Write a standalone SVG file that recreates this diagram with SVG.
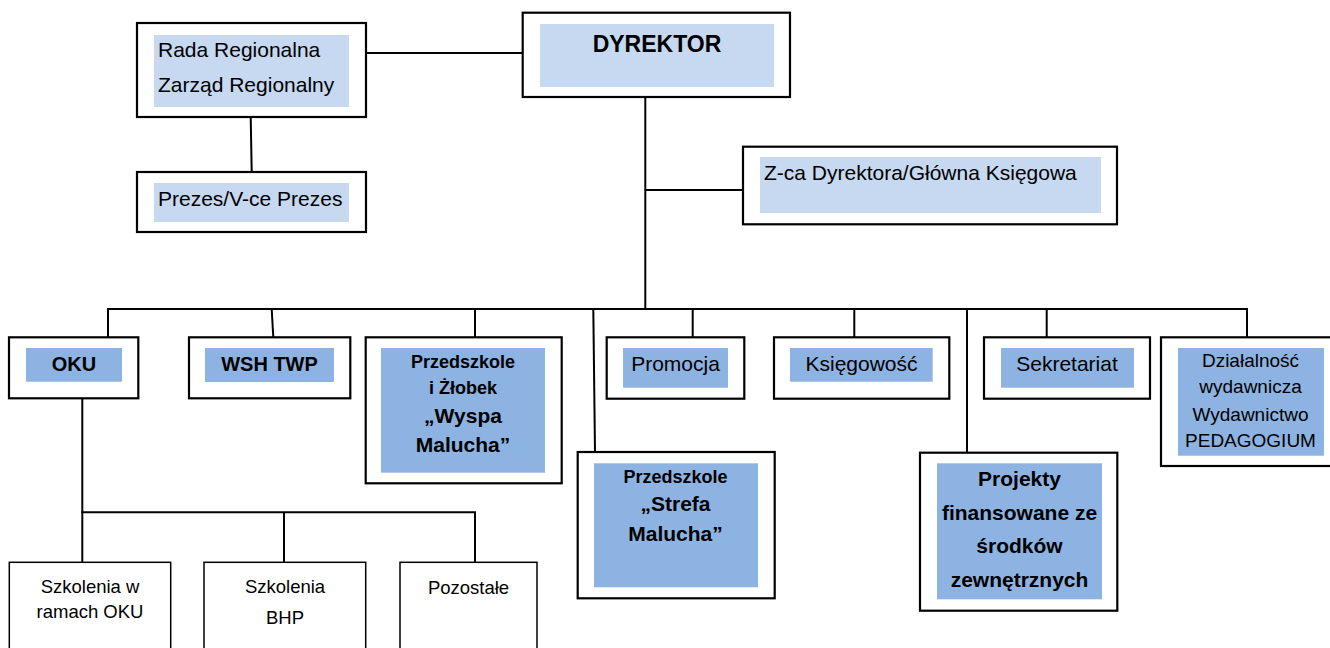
<svg xmlns="http://www.w3.org/2000/svg" width="1330" height="648" viewBox="0 0 1330 648">
<style>
.box{fill:#fff;stroke:#000;stroke-width:2.2}
.sub{fill:#fff;stroke:#000;stroke-width:1.5}
.lt{fill:#C6D9F1}
.md{fill:#8DB3E2}
.con{fill:none;stroke:#000;stroke-width:2}
text{font-family:"Liberation Sans",Arial,sans-serif;fill:#000}
.r{font-size:21px}
.b{font-size:21px;font-weight:bold}
.bs{font-size:18px;font-weight:bold}
.c{text-anchor:middle}
.s{font-size:18.5px}
.d{font-size:19px}
</style>
<rect width="1330" height="648" fill="#fff"/>
<g id="connectors">
<path class="con" d="M366 53H522.7"/>
<path class="con" d="M250.7 117L251.7 172"/>
<path class="con" d="M645.3 97V309"/>
<path class="con" d="M645.3 190H743"/>
<path class="con" d="M107 309H1248"/>
<path class="con" d="M108 309V337.3"/>
<path class="con" d="M271.7 309L273.3 337.3"/>
<path class="con" d="M475 309V337.3"/>
<path class="con" d="M593.3 309L595 452"/>
<path class="con" d="M692.7 309V337.3"/>
<path class="con" d="M854.3 309V337.3"/>
<path class="con" d="M967 309V452.7"/>
<path class="con" d="M1046.7 309V337.3"/>
<path class="con" d="M1247 309V337.3"/>
<path class="con" d="M82.3 398.3V512.3"/>
<path class="con" d="M81.3 512.3H476"/>
<path class="con" d="M82.3 512.3V562.3"/>
<path class="con" d="M284 512.3V562.3"/>
<path class="con" d="M475 512.3V562.3"/>
</g>
<g id="rada">
<rect class="box" x="137" y="23" width="229" height="94"/>
<rect class="lt" x="154" y="35" width="195" height="72"/>
<text class="r" x="158" y="57">Rada Regionalna</text>
<text class="r" x="158" y="92">Zarząd Regionalny</text>
</g>
<g id="prezes">
<rect class="box" x="137" y="172" width="229" height="60"/>
<rect class="lt" x="154" y="183" width="195" height="39"/>
<text class="r" x="158" y="206">Prezes/V-ce Prezes</text>
</g>
<g id="dyrektor">
<rect class="box" x="522.7" y="12.7" width="267.3" height="84.3"/>
<rect class="lt" x="540" y="24" width="234" height="63"/>
<text class="c" x="657" y="52" style="font-size:23px;font-weight:bold">DYREKTOR</text>
</g>
<g id="zca">
<rect class="box" x="743" y="146.7" width="374" height="77.6"/>
<rect class="lt" x="760" y="157" width="341" height="56"/>
<text class="r" x="764" y="180">Z-ca Dyrektora/Główna Księgowa</text>
</g>
<g id="oku">
<rect class="box" x="9" y="337.3" width="129.3" height="61"/>
<rect class="md" x="26" y="348" width="96" height="33.7"/>
<text class="c" x="74" y="371" style="font-size:20px;font-weight:bold">OKU</text>
</g>
<g id="wsh">
<rect class="box" x="189" y="337.3" width="161.3" height="61"/>
<rect class="md" x="205" y="348" width="129" height="34"/>
<text class="c" x="269.5" y="371" style="font-size:20px;font-weight:bold">WSH TWP</text>
</g>
<g id="wyspa">
<rect class="box" x="365.7" y="337.3" width="196" height="146"/>
<rect class="md" x="381" y="348" width="164" height="124.7"/>
<text class="c bs" x="463" y="368">Przedszkole</text>
<text class="c bs" x="463" y="394">i Żłobek</text>
<text class="c b" x="463" y="423">„Wyspa</text>
<text class="c b" x="463" y="452">Malucha”</text>
</g>
<g id="promocja">
<rect class="box" x="606.7" y="337.3" width="137.6" height="61.4"/>
<rect class="md" x="623" y="348" width="105" height="39.7"/>
<text class="c r" x="675.5" y="371">Promocja</text>
</g>
<g id="ksiegowosc">
<rect class="box" x="774" y="337.3" width="175.3" height="61.4"/>
<rect class="md" x="790" y="348" width="142.7" height="33.7"/>
<text class="c r" x="861.5" y="371">Księgowość</text>
</g>
<g id="sekretariat">
<rect class="box" x="984" y="337.3" width="166" height="61.4"/>
<rect class="md" x="1001" y="348" width="133" height="39.7"/>
<text class="c r" x="1067" y="371">Sekretariat</text>
</g>
<g id="dzialalnosc">
<rect class="box" x="1161" y="337.3" width="172" height="128.7"/>
<rect class="md" x="1178" y="348" width="146" height="107.7"/>
<text class="c d" x="1250.5" y="367">Działalność</text>
<text class="c d" x="1250.5" y="393">wydawnicza</text>
<text class="c d" x="1250.5" y="420.5">Wydawnictwo</text>
<text class="c d" x="1250.5" y="446.5">PEDAGOGIUM</text>
</g>
<g id="strefa">
<rect class="box" x="577.7" y="452" width="197" height="146.3"/>
<rect class="md" x="594" y="463.3" width="164" height="124"/>
<text class="c bs" x="675.5" y="483">Przedszkole</text>
<text class="c b" x="675.5" y="511">„Strefa</text>
<text class="c b" x="675.5" y="541">Malucha”</text>
</g>
<g id="projekty">
<rect class="box" x="920" y="452.7" width="197.3" height="158"/>
<rect class="md" x="937" y="463.3" width="165" height="136"/>
<text class="c b" x="1019.5" y="486">Projekty</text>
<text class="c b" x="1019.5" y="520">finansowane ze</text>
<text class="c b" x="1019.5" y="553">środków</text>
<text class="c b" x="1019.5" y="587">zewnętrznych</text>
</g>
<g id="szkolenia-oku">
<rect class="sub" x="9.3" y="562.3" width="161.4" height="100"/>
<text class="c s" x="90" y="593">Szkolenia w</text>
<text class="c s" x="90" y="618">ramach OKU</text>
</g>
<g id="szkolenia-bhp">
<rect class="sub" x="204" y="562.3" width="161.7" height="100"/>
<text class="c s" x="285" y="593">Szkolenia</text>
<text class="c s" x="285" y="624">BHP</text>
</g>
<g id="pozostale">
<rect class="sub" x="400" y="562.3" width="137" height="100"/>
<text class="c s" x="468.5" y="594">Pozostałe</text>
</g>
</svg>
